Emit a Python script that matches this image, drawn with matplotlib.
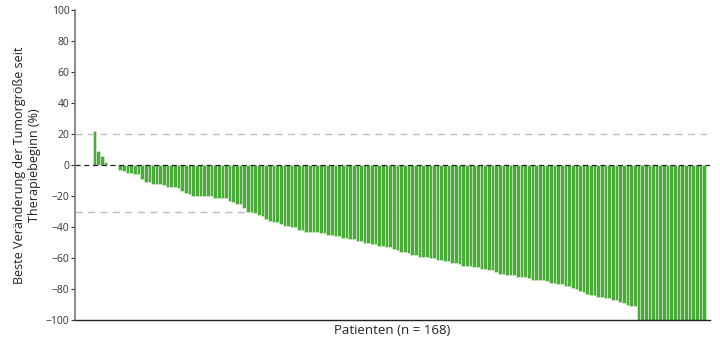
import numpy as np
import matplotlib.pyplot as plt

plt.rcParams['font.family'] = ['Open Sans', 'DejaVu Sans']

# best change in tumour size per patient (%), sorted
values = [22, 9, 6, 2, 0, 0, 0,
          -3, -4, -5, -5, -6, -6, -9, -11, -11, -12, -12, -12, -13, -14,
          -14, -14, -15, -17, -18, -19, -20, -20, -20, -20, -20, -20, -21, -21,
          -21, -21, -23, -24, -25, -25, -28, -30, -30, -31, -32, -33, -35, -36,
          -37, -37, -38, -39, -39, -40, -40, -42, -42, -43, -43, -43, -43, -44,
          -44, -45, -45, -46, -46, -47, -47, -48, -48, -49, -49, -50, -50, -51,
          -51, -52, -52, -53, -53, -54, -55, -56, -56, -57, -58, -58, -59, -59,
          -59, -60, -60, -61, -61, -62, -62, -63, -63, -64, -65, -65, -65, -66,
          -66, -67, -67, -68, -68, -69, -70, -70, -71, -71, -71, -72, -72, -72,
          -73, -74, -74, -74, -74, -75, -76, -76, -77, -77, -78, -78, -79, -80,
          -81, -82, -83, -84, -84, -85, -85, -86, -86, -87, -87, -88, -89, -90,
          -91, -91] + [-100] * 19
yticks = list(range(-100, 101, 20))
ref_lines = [20, -30]

fig = plt.figure(figsize=(7.2, 3.42), dpi=100)
ax = fig.add_axes([0.104, 0.064, 0.882, 0.907])

x = np.arange(len(values))
ax.bar(x, values, width=1.0, color='#4aab3b', edgecolor='#d2ecca', linewidth=0.5, zorder=2)

for r in ref_lines:
    ax.axhline(r, color='#bdbdbd', linestyle=(0, (5, 4)), linewidth=1.0, zorder=1)
ax.axhline(0, color='#222222', linestyle=(0, (4, 3)), linewidth=0.9, zorder=3)

ax.set_xlim(-5.4, 168.6)
ax.set_ylim(-100, 100)
ax.set_yticks(yticks)
ax.set_xticks([])
ax.tick_params(axis='y', labelsize=7.5, length=3, width=0.8, colors='#333333', pad=1)

for s in ['top', 'right']:
    ax.spines[s].set_visible(False)
ax.spines['left'].set_color('#777777')
ax.spines['left'].set_linewidth(1.2)
ax.spines['bottom'].set_color('#222222')
ax.spines['bottom'].set_linewidth(1.0)

ax.set_ylabel('Beste Veränderung der Tumorgröße seit\nTherapiebeginn (%)', fontsize=9,
              color='#222222', linespacing=1.25)
ax.yaxis.set_label_coords(-0.053, 0.5)
ax.set_xlabel('Patienten (n = 168)', fontsize=9.5, color='#222222', labelpad=3)

plt.savefig('out.png', dpi=100)
plt.close()
